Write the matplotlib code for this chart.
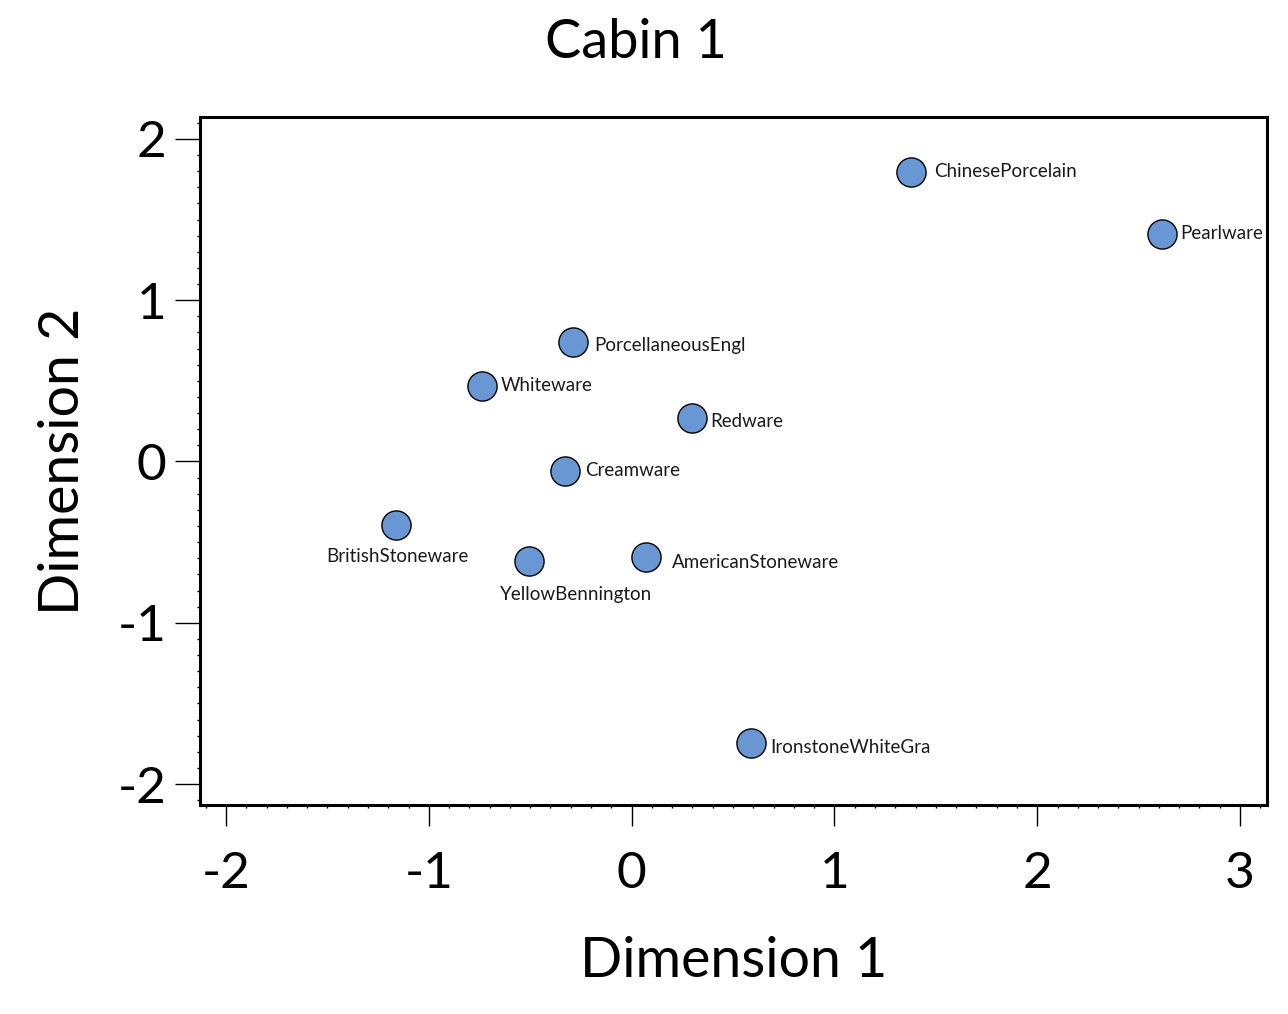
import matplotlib.pyplot as plt
from matplotlib.ticker import MultipleLocator

plt.rcParams['font.family'] = ['Lato', 'DejaVu Sans']
plt.rcParams['axes.unicode_minus'] = False

names = ["ChinesePorcelain", "Pearlware", "PorcellaneousEngl", "Whiteware",
         "Redware", "Creamware", "BritishStoneware", "YellowBennington",
         "AmericanStoneware", "IronstoneWhiteGra"]
dim1 = [1.376, 2.615, -0.291, -0.740, 0.296, -0.326, -1.164, -0.508, 0.069, 0.587]
dim2 = [1.798, 1.413, 0.738, 0.471, 0.267, -0.056, -0.391, -0.620, -0.595, -1.748]

# label offsets in pixels (dx, dy) and alignment
label_pos = [(23, 0, 'left'), (18, 0, 'left'), (22, -3, 'left'), (19, 0, 'left'),
             (19, -3, 'left'), (20, 0, 'left'), (2, -32, 'center'), (47, -33, 'center'),
             (26, -5, 'left'), (20, -4, 'left')]

fig = plt.figure(figsize=(12.88, 10.14), dpi=100)
ax = fig.add_axes([0.1553, 0.2061, 0.8284, 0.6785])

ax.scatter(dim1, dim2, s=21**2, color='#6897d3', edgecolors='black',
           linewidths=1.0, zorder=3)

for n, x, y, (dx, dy, ha) in zip(names, dim1, dim2, label_pos):
    ax.annotate(n, (x, y), xytext=(dx * 0.72, dy * 0.72), textcoords='offset points',
                ha=ha, va='center', fontsize=13.5, color='#1a1a1a')

ax.set_xlim(-2.128, 3.133)
ax.set_ylim(-2.13, 2.136)
ax.xaxis.set_major_locator(MultipleLocator(1))
ax.yaxis.set_major_locator(MultipleLocator(1))
ax.xaxis.set_minor_locator(MultipleLocator(0.1))
ax.yaxis.set_minor_locator(MultipleLocator(0.1))

for s in ax.spines.values():
    s.set_linewidth(2.2)
ax.tick_params(axis='x', which='major', length=15, width=1, pad=18, labelsize=37)
ax.tick_params(axis='y', which='major', length=18, width=1, pad=6, labelsize=37)
ax.tick_params(which='minor', length=2.5, width=1)

ax.set_xlabel("Dimension 1", fontsize=40, labelpad=28)
ax.set_ylabel("Dimension 2", fontsize=40, labelpad=21)
fig.suptitle("Cabin 1", fontsize=39, x=0.494, y=0.982)

fig.savefig("out.png", dpi=100)
